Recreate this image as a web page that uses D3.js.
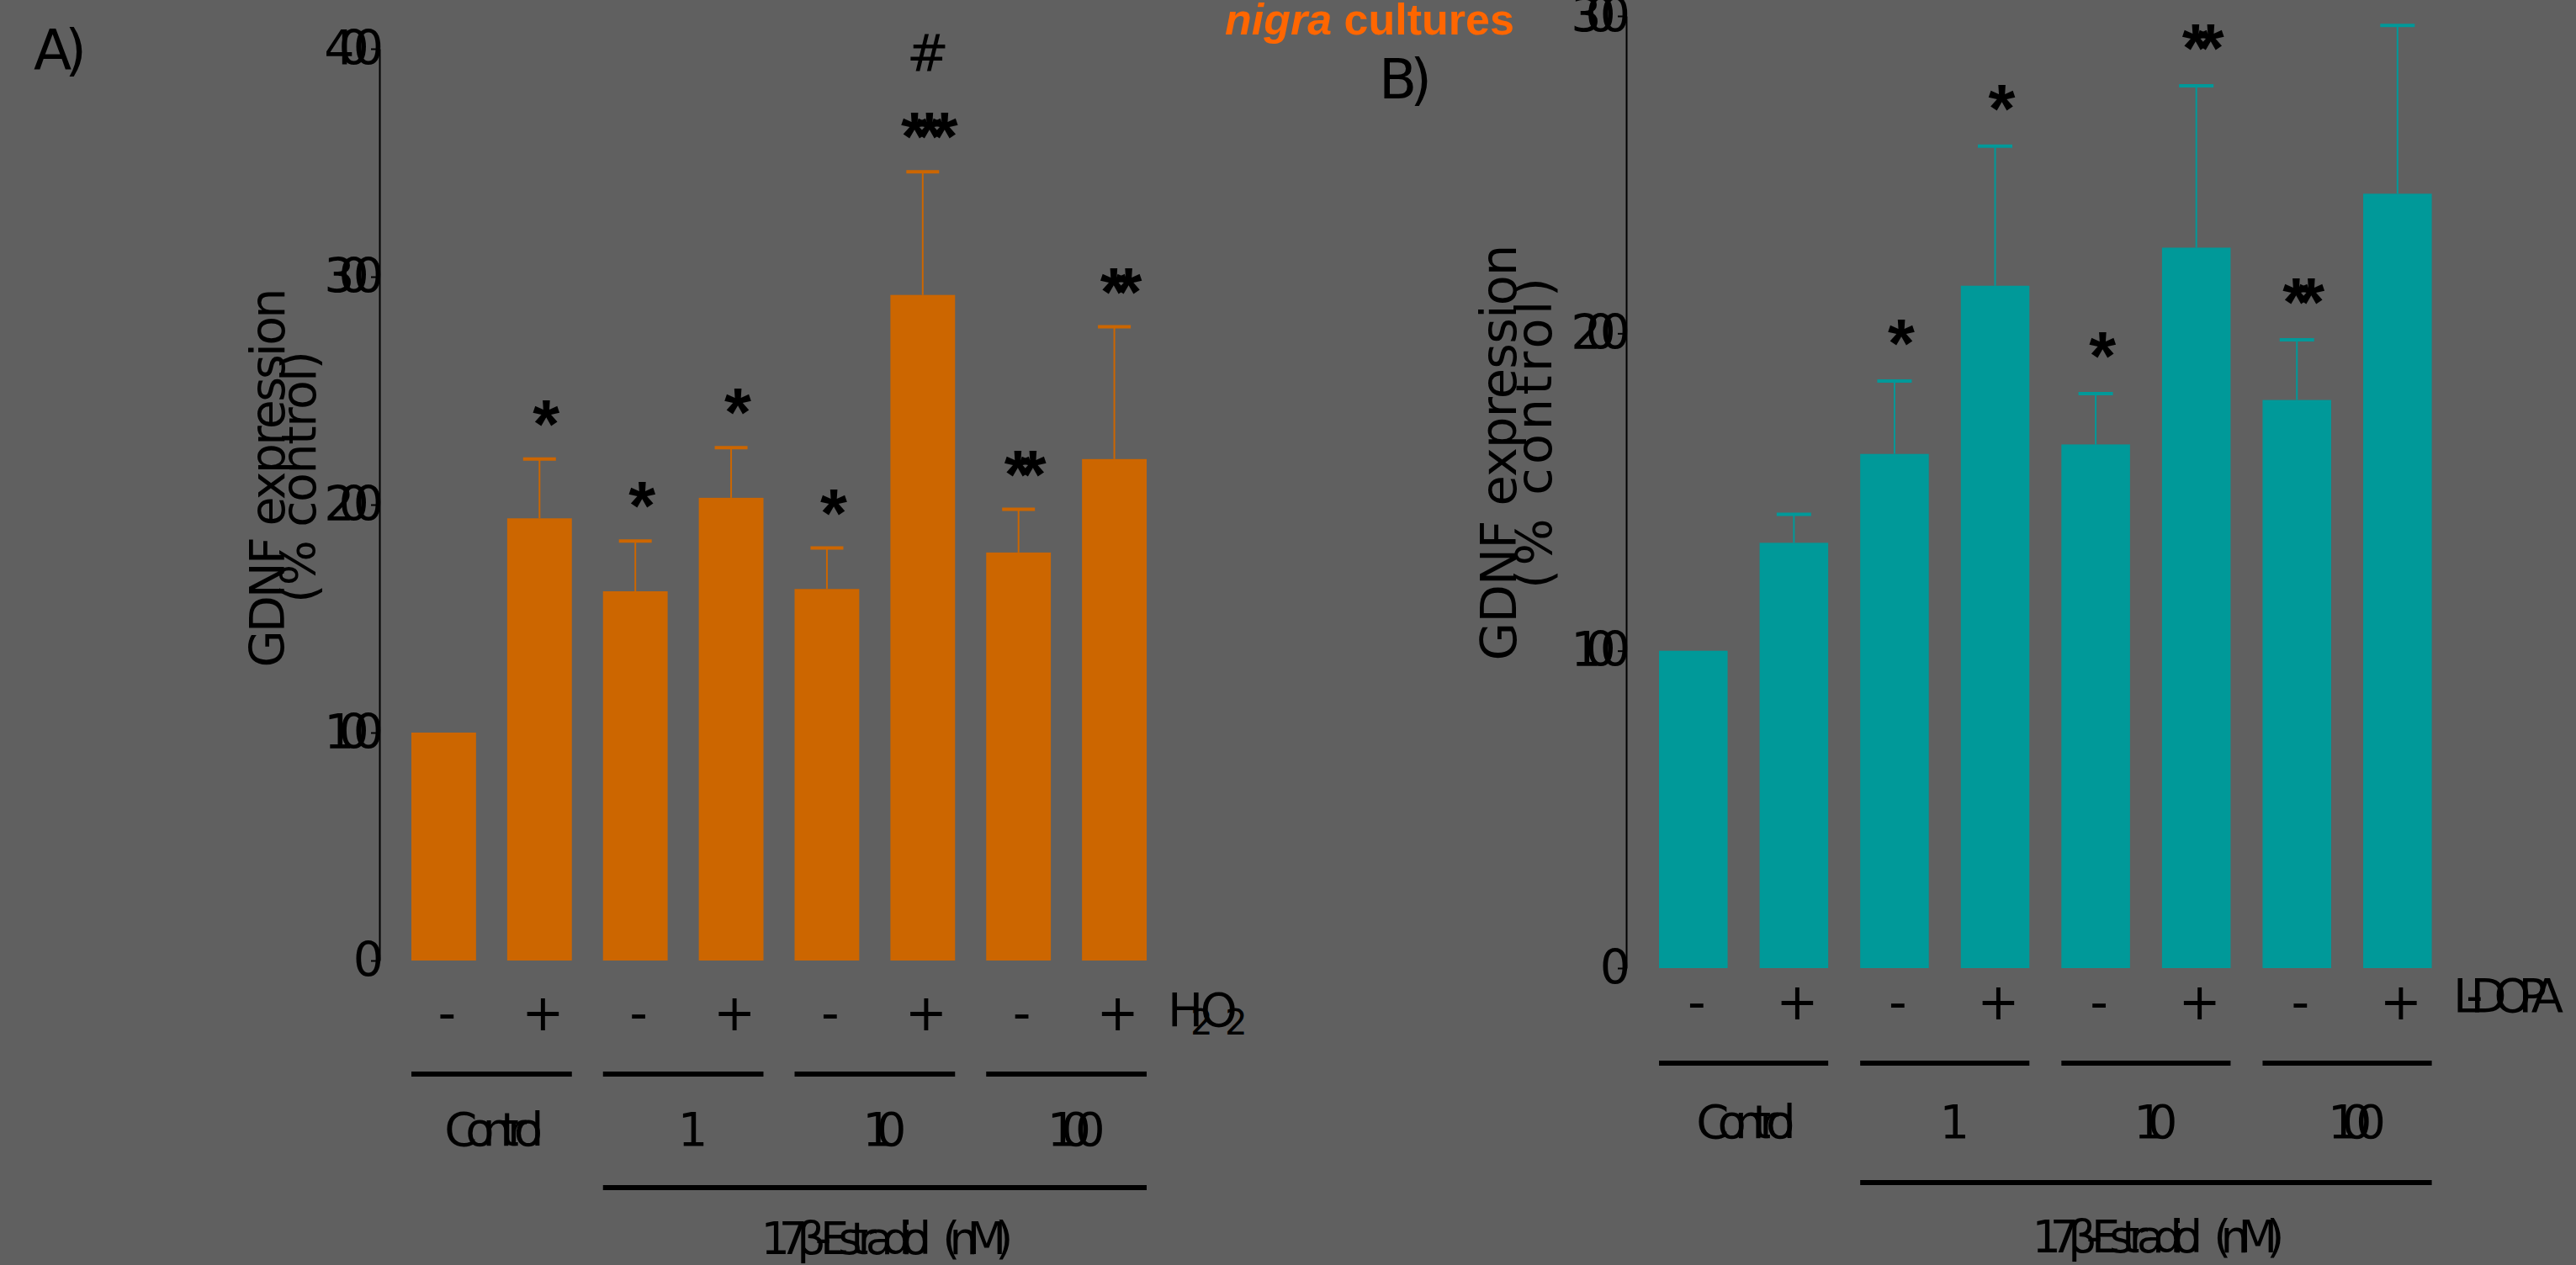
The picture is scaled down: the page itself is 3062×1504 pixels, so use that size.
<!DOCTYPE html>
<html>
<head>
<meta charset="utf-8">
<script src="https://cdn.jsdelivr.net/npm/d3@7"></script>
<style>
  html, body { margin: 0; padding: 0; background: #606060; }
  svg { display: block; }
  text { font-family: "DejaVu Sans", sans-serif; fill: #000; }
</style>
</head>
<body>
<div id="chart"></div>
<script>
/* GDNF expression in nigra cultures — two bar panels (H2O2 / L-DOPA)
   with SEM whiskers and significance marks. */

var conditions = ["C-", "C+", "E1-", "E1+", "E10-", "E10+", "E100-", "E100+"];
var signs = ["-", "+", "-", "+", "-", "+", "-", "+"];
var groupLabels = ["Control", "1", "10", "100"];

var meanA = [100, 194, 162, 203, 163, 292, 179, 220];
var semA = [0, 26, 22, 22, 18, 54, 19, 58];
var starsA = ["", "*", "*", "*", "*", "***", "**", "**"];
var hashA = ["", "", "", "", "", "#", "", ""];
var ticksA = [0, 100, 200, 300, 400];

var meanB = [100, 134, 162, 215, 165, 227, 179, 244];
var semB = [0, 9, 23, 44, 16, 51, 19, 53];
var starsB = ["", "", "*", "*", "*", "**", "**", ""];
var ticksB = [0, 100, 200, 300];

var W = 3062, H = 1504;
var svg = d3.select("#chart").append("svg")
  .attr("width", W).attr("height", H);
svg.append("rect").attr("width", W).attr("height", H).attr("fill", "#606060");

function drawPanel(p) {
  var x = d3.scaleBand().domain(conditions)
    .range(p.xRange).paddingInner(p.pad).paddingOuter(p.pad / 2);
  var y = d3.scaleLinear().domain([0, p.yMax]).range([p.y0, p.yTop]);
  var cx = function (i) { return x(conditions[i]) + x.bandwidth() / 2; };
  var g = svg.append("g");

  /* Bars. */
  g.selectAll("rect.bar").data(p.mean).join("rect")
    .attr("class", "bar")
    .attr("x", function (d, i) { return x(conditions[i]); })
    .attr("y", function (d) { return y(d); })
    .attr("width", x.bandwidth())
    .attr("height", function (d) { return y(0) - y(d); })
    .attr("fill", p.color);

  /* Error whiskers (upper only) + caps. */
  var errs = p.mean.map(function (m, i) { return { i: i, m: m, top: m + p.sem[i] }; })
    .filter(function (d) { return p.sem[d.i] > 0; });
  g.selectAll("line.err").data(errs).join("line")
    .attr("x1", function (d) { return cx(d.i); })
    .attr("x2", function (d) { return cx(d.i); })
    .attr("y1", function (d) { return y(d.m); })
    .attr("y2", function (d) { return y(d.top); })
    .attr("stroke", p.color).attr("stroke-width", 2);
  g.selectAll("line.cap").data(errs).join("line")
    .attr("x1", function (d) { return cx(d.i) - p.capW / 2; })
    .attr("x2", function (d) { return cx(d.i) + p.capW / 2; })
    .attr("y1", function (d) { return y(d.top); })
    .attr("y2", function (d) { return y(d.top); })
    .attr("stroke", p.color).attr("stroke-width", 4);

  /* Significance marks. */
  p.mean.forEach(function (m, i) {
    var top = m + p.sem[i];
    if (p.stars[i]) {
      g.append("text")
        .attr("x", cx(i) + 1).attr("y", y(top) - p.starGap)
        .attr("dy", "0.55em")
        .attr("text-anchor", "middle")
        .style("font-family", "'Liberation Sans', sans-serif")
        .style("font-weight", "bold")
        .style("font-size", "82px")
        .style("letter-spacing", "-14px")
        .text(p.stars[i]);
    }
    if (p.hash && p.hash[i]) {
      g.append("text")
        .attr("x", cx(i) + 6).attr("y", y(top) - p.starGap - 83)
        .attr("dy", "0.36em")
        .attr("text-anchor", "middle")
        .style("font-size", "60px")
        .text(p.hash[i]);
    }
  });

  /* Y axis. */
  var axis = d3.axisLeft(y).tickValues(p.ticks)
    .tickSize(10).tickSizeOuter(0).tickPadding(4);
  var ag = g.append("g")
    .attr("transform", "translate(" + p.axisX + ",0)")
    .call(axis);
  ag.select(".domain").attr("stroke", "#000").attr("stroke-width", 2);
  ag.selectAll(".tick line").attr("stroke", "#000").attr("stroke-width", 2);
  ag.selectAll(".tick text")
    .attr("fill", "#000")
    .style("font-family", "'DejaVu Sans', sans-serif")
    .style("font-size", "57px")
    .style("letter-spacing", "-19px");

  /* Y label, two overlapping lines. */
  g.append("text")
    .attr("transform", "translate(" + p.labelX1 + "," + p.labelY1 + ") rotate(-90)")
    .attr("text-anchor", "middle")
    .attr("textLength", p.labelLen1).attr("lengthAdjust", "spacing")
    .style("font-size", p.labelSize + "px")
    .text("GDNF expression");
  g.append("text")
    .attr("transform", "translate(" + p.labelX2 + "," + p.labelY2 + ") rotate(-90)")
    .attr("text-anchor", "middle")
    .attr("textLength", p.labelLen2).attr("lengthAdjust", "spacing")
    .style("font-size", p.labelSize + "px")
    .text("(% control)");

  /* +/- row. */
  g.selectAll("text.sign").data(signs).join("text")
    .attr("class", "sign")
    .attr("x", function (d, i) { return cx(i) + 4; })
    .attr("y", p.signY)
    .attr("dy", "0.36em")
    .attr("text-anchor", "middle")
    .style("font-size", "60px")
    .text(function (d) { return d; });

  /* Group underlines + labels. */
  groupLabels.forEach(function (lab, k) {
    var a = conditions[2 * k], b = conditions[2 * k + 1];
    var x1 = x(a), x2 = x(b) + x.bandwidth();
    g.append("line")
      .attr("x1", x1).attr("x2", x2)
      .attr("y1", p.lineY).attr("y2", p.lineY)
      .attr("stroke", "#000").attr("stroke-width", 6);
    g.append("text")
      .attr("x", (x1 + x2) / 2 + (k === 0 ? -4 : 2)).attr("y", p.groupY)
      .attr("dy", "0.36em")
      .attr("text-anchor", "middle")
      .style("font-size", "56px")
      .style("letter-spacing", k === 0 ? "-14px" : "-19px")
      .text(lab);
  });

  var e1 = x(conditions[2]), e2 = x(conditions[7]) + x.bandwidth();
  g.append("line")
    .attr("x1", e1).attr("x2", e2)
    .attr("y1", p.bigLineY).attr("y2", p.bigLineY)
    .attr("stroke", "#000").attr("stroke-width", 6);
  g.append("text")
    .attr("x", (e1 + e2) / 2 + 8).attr("y", p.bigLabelY)
    .attr("dy", "0.36em")
    .attr("text-anchor", "middle")
    .style("font-size", "54px")
    .style("letter-spacing", "-13px")
    .style("word-spacing", "22px")
    .text("17β-Estradiol (nM)");

  return { x: x, y: y, g: g };
}

var pa = drawPanel({
  xRange: [470.5, 1381.5], pad: 0.325,
  yMax: 400, y0: 1142, yTop: 58,
  color: "#CC6600", capW: 39,
  mean: meanA, sem: semA, stars: starsA, hash: hashA, starGap: 59,
  ticks: ticksA, axisX: 451,
  labelX1: 338, labelX2: 375, labelY1: 568, labelY2: 567,
  labelSize: 57, labelLen1: 451, labelLen2: 300,
  signY: 1203, lineY: 1277, groupY: 1342, bigLineY: 1412, bigLabelY: 1472
});

var pb = drawPanel({
  xRange: [1953, 2909.6], pad: 0.318,
  yMax: 300, y0: 1151, yTop: 19,
  color: "#009999", capW: 41,
  mean: meanB, sem: semB, stars: starsB, hash: null, starGap: 62,
  ticks: ticksB, axisX: 1933,
  labelX1: 1802, labelX2: 1844, labelY1: 538, labelY2: 515,
  labelSize: 59, labelLen1: 495, labelLen2: 370,
  signY: 1190, lineY: 1264, groupY: 1333, bigLineY: 1406, bigLabelY: 1470
});

/* Treatment labels at the end of the +/- rows. */
var h2o2 = pa.g.append("text")
  .attr("x", 1388).attr("y", 1220)
  .style("font-size", "56px")
  .style("letter-spacing", "-15px");
h2o2.append("tspan").text("H");
h2o2.append("tspan").attr("dy", 10).style("font-size", "42px").text("2");
h2o2.append("tspan").attr("dy", -10).text("O");
h2o2.append("tspan").attr("dy", 10).style("font-size", "42px").text("2");

pb.g.append("text")
  .attr("x", 2916).attr("y", 1203)
  .style("font-size", "56px")
  .style("letter-spacing", "-15px")
  .text("L-DOPA");

/* Panel letters. */
svg.append("text").attr("x", 40).attr("y", 82)
  .style("font-size", "66px").style("letter-spacing", "-8px").text("A)");
svg.append("text").attr("x", 1639).attr("y", 117)
  .style("font-size", "66px").style("letter-spacing", "-8px").text("B)");

/* Title fragment at top. */
var title = svg.append("text")
  .attr("x", 1456).attr("y", 41)
  .style("font-family", "'Liberation Sans', Arial, sans-serif")
  .style("font-weight", "bold")
  .style("font-size", "52px")
  .style("fill", "#FF6600");
title.append("tspan").style("font-style", "italic").text("nigra");
title.append("tspan").text(" cultures");
</script>
</body>
</html>
